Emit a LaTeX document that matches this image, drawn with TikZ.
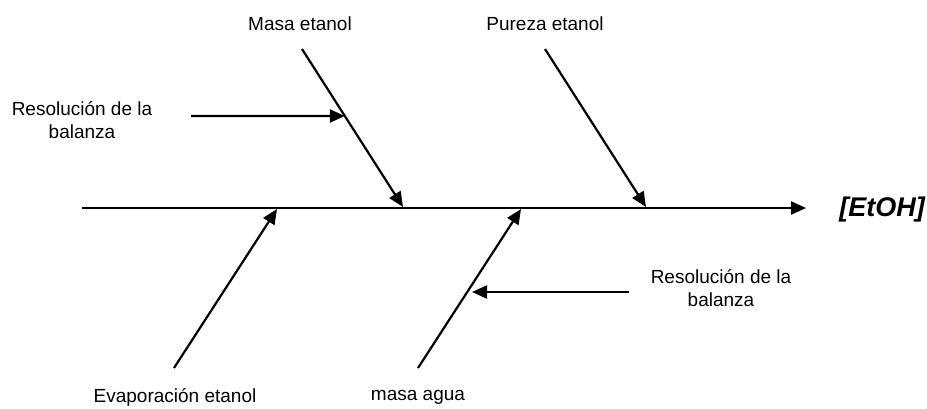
\documentclass[tikz,border=0pt]{standalone}
\usepackage{fontspec}
\setmainfont{Liberation Sans}
\usetikzlibrary{arrows.meta,calc}
\begin{document}
\begin{tikzpicture}[x=1pt,y=-1pt,
  bone/.style={line width=2.2pt,-{Triangle[length=15pt,width=13pt]}},
  cause/.style={font=\fontsize{19}{23}\selectfont,align=center,inner sep=0pt},
  effect/.style={font=\fontsize{27}{30}\selectfont\bfseries\itshape,inner sep=0pt}]
\useasboundingbox (0,0) rectangle (927,408);

% spine and effect
\coordinate (s0) at (82,208);
\coordinate (s1) at (806,208);
\node[effect] (eff) at (882,210) {[EtOH]};

% upper bones
\node[cause] (masaE) at (300,24) {Masa etanol};
\coordinate (mA) at (302,49);
\coordinate (mB) at (403,207);
\node[cause] (pureza) at (545,24) {Pureza etanol};
\coordinate (pA) at (545,49);
\coordinate (pB) at (646,207);

% lower bones
\node[cause] (evap) at (175,397) {Evaporación etanol};
\coordinate (eA) at (174,368);
\coordinate (eB) at (277,209);
\node[cause] (agua) at (418,397) {masa agua};
\coordinate (aA) at (418,368);
\coordinate (aB) at (521,209);

% sub-causes
\node[cause] (res1) at (82,120) {Resolución de la\\balanza};
\coordinate (r1A) at (191,116);
\coordinate (r1B) at ($(mA)!0.424!(mB)$);
\node[cause] (res2) at (721,288) {Resolución de la\\balanza};
\coordinate (r2A) at (629,292);
\coordinate (r2B) at (472,292);

\draw[bone] (s0) -- (s1);
\draw[bone] (mA) -- (mB);
\draw[bone] (pA) -- (pB);
\draw[bone] (eA) -- (eB);
\draw[bone] (aA) -- (aB);
\draw[bone] (r1A) -- (r1B);
\draw[bone] (r2A) -- (r2B);
\end{tikzpicture}
\end{document}
